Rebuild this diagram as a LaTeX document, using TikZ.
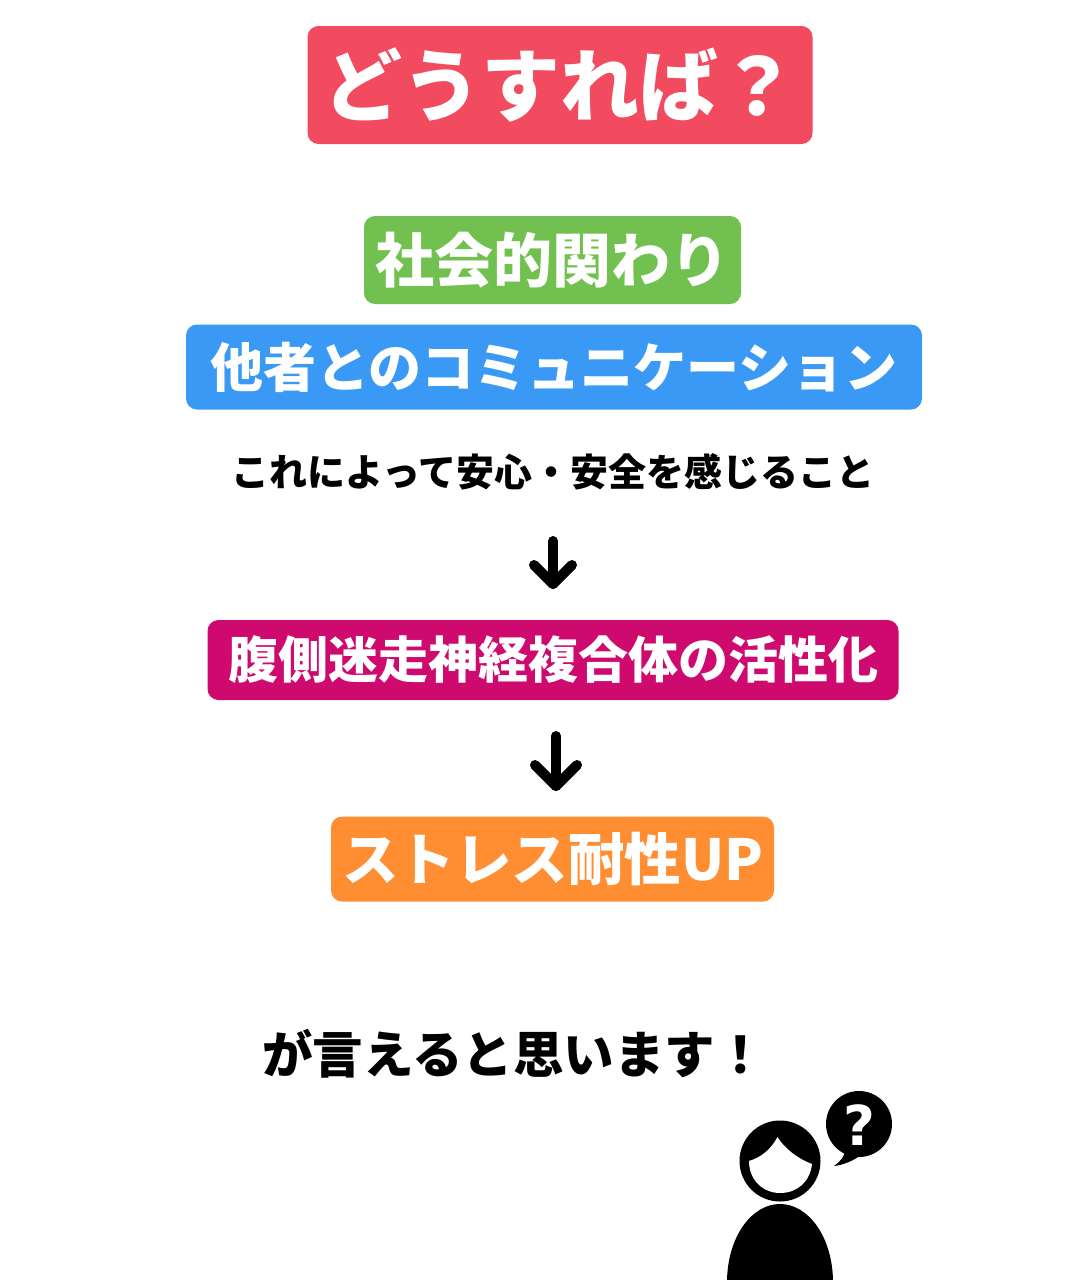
\documentclass[tikz,border=0pt]{standalone}
\usepackage{fontspec}
\setmainfont{Noto Sans CJK JP}[BoldFont={Noto Sans CJK JP Black}]
\newfontfamily\qmfont{DejaVu Sans}[BoldFont={DejaVu Sans Bold}]
\definecolor{cred}{HTML}{F24A5E}
\definecolor{cgreen}{HTML}{72C150}
\definecolor{cblue}{HTML}{3A99F5}
\definecolor{cmag}{HTML}{CF0A6E}
\definecolor{corange}{HTML}{FF8E32}
\newcommand{\fs}[1]{\fontsize{#1pt}{#1pt}\selectfont\bfseries}
\tikzset{
 tag/.style={fill=#1,rounded corners=11pt,text=white,inner sep=0pt,anchor=center},
 plain/.style={text=black,inner sep=0pt,anchor=center},
 pointer/.style={draw=black,line width=10pt,line cap=round,line join=round}
}
\begin{document}
\begin{tikzpicture}[x=1pt,y=-1pt]
\useasboundingbox (0,0) rectangle (1082,1280);
\fill[white] (0,0) rectangle (1082,1280);
% boxes
\node[tag=cred,minimum width=505pt,minimum height=118pt] (q) at (560,85) {\fs{79}どうすれば？};
\node[tag=cgreen,minimum width=377pt,minimum height=88pt] (soc) at (552.5,260) {\fs{59}社会的関わり};
\node[tag=cblue,minimum width=736pt,minimum height=85pt] (com) at (554,367) {\fs{53}他者とのコミュニケーション};
\node[plain] (safe) at (553,472) {\fs{38}これによって安心・安全を感じること};
\node[tag=cmag,minimum width=691pt,minimum height=80pt] (vag) at (553,660) {\fs{50}腹側迷走神経複合体の活性化};
\node[tag=corange,minimum width=443pt,minimum height=85pt] (res) at (552.5,859) {\fs{56.5}ストレス耐性UP};
\node[plain] (say) at (514,1054) {\fs{50.5}が言えると思います！};
% arrows
\coordinate (a1t) at (553,541);
\coordinate (a1b) at (553,584);
\coordinate (a2t) at (556,736);
\coordinate (a2b) at (556,786);
\draw[pointer] (a1t) -- (a1b);
\draw[pointer] ([xshift=-19pt,yshift=19pt]a1b) -- (a1b) -- ([xshift=19pt,yshift=19pt]a1b);
\draw[pointer] (a2t) -- (a2b);
\draw[pointer] ([xshift=-21pt,yshift=21pt]a2b) -- (a2b) -- ([xshift=21pt,yshift=21pt]a2b);
% person
\fill[black] (780,1161) circle (40.5);
\fill[white] (749,1161) .. controls (762,1157) and (771,1149) .. (777.5,1137)
  .. controls (784,1148) and (798,1159) .. (812,1164)
  .. controls (810,1182) and (797,1193) .. (780,1193)
  .. controls (763,1193) and (749,1180) .. (749,1161) -- cycle;
\fill[black] (727,1280) .. controls (728,1236) and (752,1204) .. (780,1204)
  .. controls (808,1204) and (832,1236) .. (833,1280) -- cycle;
% bubble
\fill[black] (859,1124) circle (33);
\fill[black] (845,1150) .. controls (845,1156) and (840,1162) .. (834,1166)
  .. controls (844,1165) and (855,1160) .. (862,1154) -- cycle;
\node[text=white,inner sep=0pt] (qm) at (859,1125) {\qmfont\fs{55}?};
\end{tikzpicture}
\end{document}
